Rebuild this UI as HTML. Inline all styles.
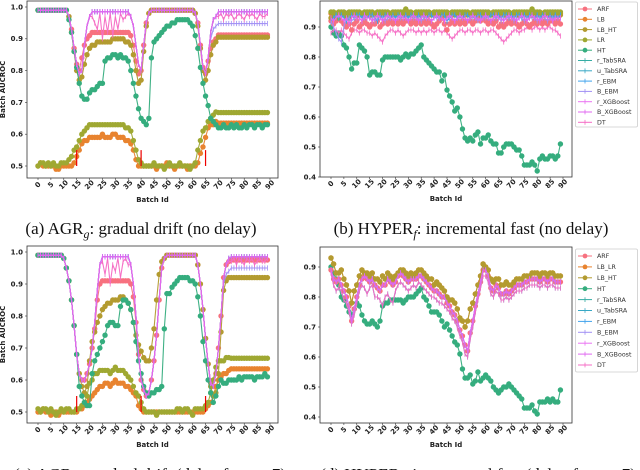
<!DOCTYPE html>
<html><head><meta charset="utf-8">
<style>
html,body{margin:0;padding:0;background:#fff;}
svg{display:block;}
.tk{font-family:"DejaVu Sans","Liberation Sans",sans-serif;font-size:7px;font-weight:bold;fill:#222;}
.lg{font-family:"DejaVu Sans","Liberation Sans",sans-serif;font-size:6.3px;fill:#333;}
.cap{font-family:"Liberation Serif",serif;font-size:17px;fill:#111;}
</style></head>
<body>
<svg id="fig" width="640" height="470" viewBox="0 0 640 470" xmlns="http://www.w3.org/2000/svg">
<rect width="640" height="470" fill="#fff"/>
<g id="pa"></g>
<g id="pb"></g>
<g id="pc"></g>
<g id="pd"></g>
<text class="cap" x="141" y="234" text-anchor="middle">(a) AGR<tspan font-size="12" dy="4" font-style="italic">g</tspan><tspan dy="-4">: gradual drift (no delay)</tspan></text>
<text class="cap" x="471" y="234" text-anchor="middle">(b) HYPER<tspan font-size="12" dy="4" font-style="italic">f</tspan><tspan dy="-4">: incremental fast (no delay)</tspan></text>
<text class="cap" x="150" y="480" text-anchor="middle">(c) AGR<tspan font-size="12" dy="4" font-style="italic">g</tspan><tspan dy="-4">: gradual drift (delay factor=7)</tspan></text>
<text class="cap" x="478" y="480" text-anchor="middle">(d) HYPER<tspan font-size="12" dy="4" font-style="italic">f</tspan><tspan dy="-4">: incremental fast (delay factor=7)</tspan></text>
</svg>
<script>
function r(v,n){return Array(n).fill(v);}
const batches = Array.from({length:90},(_, i)=>i);
const xTicks = [0,5,10,15,20,25,30,35,40,45,50,55,60,65,70,75,80,85,90];
const yTicksAC = [0.5,0.6,0.7,0.8,0.9,1.0];
const yTicksBD = [0.4,0.5,0.6,0.7,0.8,0.9];
const driftMarks = [15,40,65];

// ---- panel a values ----
const aTop = [...r(.99,12), .97,.93,.87,.82,.79,.80,.88,.94,.97, ...r(.985,15), .97,.94,.88,.82,.80,.88,.95,.98, ...r(.99,17), .98,.95,.88,.81,.79,.84,.92,.96,.97, ...r(.985,20)];
const aBEBM = [...r(.99,12), .97,.93,.87,.82,.79,.80,.88,.94,.97, ...r(.985,15), .97,.94,.88,.82,.80,.88,.95,.98, ...r(.99,17), .98,.95,.88,.81,.79,.84,.90,.93,.94, ...r(.948,20)];
const aDT = [...r(.99,12), .97,.93,.87,.82,.79,.80,.88,.94,.97, .97,.95,.93,.98,.90,.97,.92,.98,.91,.97,.93,.98,.96,.97,.98, .97,.94,.88,.82,.80,.88,.95,.98, ...r(.99,17), .98,.95,.88,.81,.79,.84,.92,.96,.97, .97,.98,.96,.98,.97,.98,.96,.97,.98,.97,.96,.98,.97,.98,.97,.96,.98,.97,.97,.98];
const aARF = [...r(.99,12), .97,.93,.87,.82,.80,.84,.88,.90,.91, ...r(.92,15), .91,.88,.83,.79,.80,.88,.95,.98, ...r(.99,17), .98,.95,.88,.81,.79,.83,.87,.89,.90, ...r(.912,20)];
const aLBHT = [...r(.99,12), .97,.92,.86,.80,.77,.78,.82,.85,.87, .88,.88,.89,.89,.89,.89,.89,.89,.90,.90,.90,.90,.90,.89,.89, .88,.85,.80,.76,.77,.86,.94,.98, ...r(.99,17), .98,.94,.87,.80,.77,.80,.85,.88,.89, ...r(.905,20)];
const aHT = [...r(.99,12), .96,.92,.86,.81,.76,.72,.71,.71,.73, .74,.74,.75,.76,.76,.83,.84,.84,.85,.85,.84,.85,.84,.84,.83, .80,.76,.72,.68,.65,.64,.63,.65, .84,.89,.90,.91,.92,.93,.94,.94,.95,.95,.96,.96,.96,.96,.96,.95,.94, .91,.87,.81,.76,.72,.69,.65,.64,.63, .62,.62,.63,.62,.62,.63,.62,.63,.62,.62,.63,.62,.63,.63,.62,.63,.63,.62,.63,.63];
const aLR = [.50,.51,.51,.50,.51,.50,.51,.50,.50,.51,.51,.51, .52,.53,.55,.56,.58,.60,.61,.62,.63, .63,.63,.63,.63,.63,.63,.63,.63,.63,.63,.63,.63,.63,.62,.62, .61,.58,.55,.52,.51,.50,.50,.50, .50,.51,.50,.50,.50,.49,.50,.51,.50,.50,.50,.51,.50,.50,.50,.49,.50, .51,.55,.58,.61,.62,.64,.65,.66,.67, ...r(.668,20)];
const aLB = [.50,.51,.50,.50,.50,.50,.50,.49,.49,.50,.50,.50, .50,.50,.51,.53,.55,.57,.58,.58,.59, .59,.59,.59,.59,.60,.59,.59,.59,.60,.60,.59,.59,.59,.58,.58, .57,.55,.52,.50,.50,.50,.50,.50, .50,.50,.49,.50,.50,.50,.51,.50,.50,.49,.50,.50,.50,.50,.49,.50,.50, .50,.51,.54,.56,.59,.62,.63,.63,.64, ...r(.635,20)];

// ---- panel c values ----
const cTop = [...r(.99,10), .98,.95,.91,.85,.77,.68,.62,.60,.60,.62,.65,.70,.78,.88,.96, ...r(.985,11), .96,.90,.80,.68,.60,.57,.55,.56,.60,.66,.74,.85,.95,.98, ...r(.99,12), .96,.90,.82,.73,.65,.59,.58,.62,.70,.80,.92,.96,.98, ...r(.985,15)];
const cBEBM = [...r(.99,10), .98,.95,.91,.85,.77,.68,.62,.60,.60,.62,.65,.70,.78,.88,.96, ...r(.985,11), .96,.90,.80,.68,.60,.57,.55,.56,.60,.66,.74,.85,.95,.98, ...r(.99,12), .96,.90,.82,.73,.65,.59,.58,.62,.70,.80,.90,.93,.94, ...r(.95,15)];
const cDT = [...r(.99,10), .98,.95,.91,.85,.77,.68,.62,.60,.60,.62,.65,.70,.78,.88,.96, .97,.93,.98,.90,.96,.94,.98,.92,.97,.98,.96, .96,.90,.80,.68,.60,.57,.55,.56,.60,.66,.74,.85,.95,.98, ...r(.99,12), .96,.90,.82,.73,.65,.59,.58,.62,.70,.80,.92,.96,.97, .97,.98,.96,.98,.97,.96,.98,.97,.98,.96,.97,.98,.97,.97,.98];
const cARF = [...r(.99,10), .98,.95,.91,.85,.77,.68,.62,.60,.60,.62,.65,.70,.76,.85,.90, ...r(.91,11), .90,.86,.78,.68,.60,.57,.55,.56,.60,.66,.74,.85,.95,.98, ...r(.99,12), .96,.90,.82,.73,.65,.59,.58,.62,.70,.80,.92,.96,.97, ...r(.975,15)];
const cLBHT = [...r(.99,10), .98,.95,.91,.85,.77,.68,.62,.58,.56,.58,.66,.72,.75,.78,.80, .82,.83,.84,.84,.85,.85,.85,.86,.86,.85,.84, .82,.78,.74,.71,.69,.67,.66,.66,.70,.76,.85,.93,.97,.98, ...r(.99,12), .96,.90,.82,.73,.65,.58,.55,.56,.62,.75,.88,.91,.92, ...r(.92,15)];
const cHT = [...r(.99,10), .98,.95,.91,.85,.77,.68,.58,.55,.53,.52,.52,.62,.66,.68,.70, .72,.74,.77,.78,.78,.77,.77,.83,.85,.85,.84, .82,.78,.72,.66,.62,.58,.56,.55,.56,.56,.57,.57,.58,.76, .87,.87,.89,.90,.91,.92,.92,.92,.92,.91,.91,.90, .86,.80,.72,.66,.60,.56,.53,.55,.58,.60,.59,.59,.60, .60,.60,.60,.61,.60,.61,.61,.61,.61,.60,.61,.61,.61,.62,.61];
const cLR = [.51,.50,.51,.51,.50,.51,.50,.49,.50,.51, .50,.51,.51,.50,.50,.51,.51,.52,.53,.55,.59,.60,.62,.62,.63, .63,.63,.63,.62,.63,.64,.63,.63,.63,.62,.61, .60,.58,.56,.55,.53,.51,.50,.50,.50,.50,.49,.50,.50,.50, .50,.50,.50,.50,.51,.51,.50,.51,.51,.50,.49,.51, .51,.51,.51,.52,.53,.56,.60,.64,.66,.66,.66,.67,.67, ...r(.668,15)];
const cLB = [.50,.50,.51,.50,.50,.49,.50,.50,.49,.50, .50,.50,.50,.50,.50,.50,.51,.51,.52,.53,.54,.55,.56,.57,.58, .58,.59,.59,.58,.59,.60,.59,.59,.59,.58,.58, .57,.56,.55,.52,.51,.50,.50,.50,.50,.50,.50,.50,.50,.50, ...r(.50,12), .50,.50,.50,.51,.52,.53,.55,.58,.60,.61,.62,.62,.63, ...r(.635,15)];

// ---- panel b values ----
const bLR = [.95,.95,.94,.95,.95,.95,.94,.95,.95,.95,.95,.95,.94,.95,.95,.95,.95,.94,.95,.95,.95,.95,.95,.94,.95,.95,.95,.95,.95,.96,.95,.95,.94,.95,.95,.95,.95,.95,.95,.94,.95,.95,.95,.95,.95,.95,.94,.95,.95,.95,.95,.95,.95,.95,.94,.95,.95,.95,.95,.95,.95,.95,.94,.95,.95,.95,.95,.95,.95,.95,.94,.95,.95,.95,.95,.95,.95,.95,.96,.95,.95,.95,.94,.95,.95,.95,.95,.95,.95,.95];
const bLB = r(.945,90);
const bLBHT = [.93,.94,.93,.93,.94,.94,.93,.93,.94,.94,...r(.94,80)];
const bARF = [.92,.91,.92,.93,.92,.91,.90,.91,.89,.91,.92,.90,.91,.92,.91,.90,.91,.91,.92,.90,.91,.92,.91,.92,.91,.92,.91,.92,.91,.92,.92,.91,.92,.91,.92,.91,.92,.91,.92,.91,.90,.91,.92,.93,.91,.89,.91,.92,.91,.92,.91,.92,.91,.92,.92,.91,.92,.93,.92,.93,.92,.91,.92,.91,.92,.90,.91,.90,.91,.92,.91,.92,.91,.90,.91,.92,.91,.90,.91,.92,.91,.92,.91,.92,.91,.92,.92,.91,.92,.91];
const bTab = [.92,.93,.94,.93,.94,.93,.92,.93,.94,.93,.94,.94,.93,.94,.93,.94,.94,.93,.92,.94,.93,.94,.94,.93,.94,.93,.94,.94,.93,.94,.93,.94,.94,.93,.94,.93,.94,.93,.94,.94,.93,.94,.93,.94,.94,.92,.93,.94,.94,.93,.94,.93,.94,.94,.93,.94,.93,.94,.94,.93,.94,.93,.94,.94,.93,.94,.93,.94,.94,.93,.94,.93,.94,.94,.93,.94,.93,.94,.94,.93,.94,.93,.94,.94,.93,.94,.93,.94,.93,.94];
const bBEBM = [.92,.90,.88,.86,.85,.90,.93,.93,.92,.93,.93,.93,.92,.93,.93,.93,.93,.92,.93,.93,.93,.92,.93,.93,.93,.92,.93,.93,.93,.93,.92,.93,.93,.93,.93,.92,.93,.93,.93,.92,.93,.93,.93,.93,.92,.93,.93,.93,.92,.93,.93,.93,.93,.92,.93,.93,.93,.92,.93,.93,.93,.93,.92,.93,.93,.93,.92,.93,.93,.93,.93,.92,.93,.93,.93,.92,.93,.93,.93,.93,.92,.93,.93,.93,.92,.93,.93,.93,.93,.93];
const bXGB = [.93,.92,.93,.94,.93,.92,.93,.91,.93,.94,.93,.93,.92,.94,.93,.93,.92,.93,.94,.93,.92,.93,.94,.93,.93,.92,.93,.94,.93,.93,.92,.93,.94,.93,.92,.93,.94,.93,.93,.92,.93,.94,.93,.93,.92,.93,.94,.93,.92,.93,.94,.93,.93,.92,.93,.94,.93,.93,.92,.93,.94,.93,.92,.93,.94,.93,.93,.92,.93,.94,.93,.93,.92,.93,.94,.93,.92,.93,.94,.93,.93,.92,.93,.94,.93,.93,.92,.93,.93,.93];
const bDT = [.88,.89,.89,.88,.89,.88,.87,.86,.88,.89,.89,.88,.89,.89,.88,.88,.87,.88,.87,.86,.85,.87,.88,.89,.89,.88,.89,.88,.87,.88,.89,.89,.89,.88,.89,.88,.89,.88,.89,.89,.88,.89,.89,.88,.89,.88,.87,.86,.87,.88,.89,.89,.88,.89,.89,.88,.89,.89,.88,.89,.89,.88,.89,.89,.88,.87,.86,.85,.86,.87,.88,.89,.89,.88,.89,.89,.90,.90,.89,.90,.90,.89,.90,.89,.90,.90,.89,.89,.88,.87];
const bHT = [.90,.88,.87,.88,.87,.84,.83,.80,.76,.78,.78,.84,.83,.82,.80,.74,.75,.75,.74,.74,.79,.80,.80,.80,.80,.80,.80,.79,.80,.81,.80,.81,.81,.82,.83,.84,.80,.79,.78,.77,.76,.75,.75,.72,.74,.69,.67,.65,.62,.63,.60,.56,.53,.52,.53,.52,.54,.55,.51,.53,.53,.54,.52,.51,.51,.48,.48,.50,.51,.51,.51,.50,.49,.49,.47,.44,.44,.44,.45,.44,.42,.46,.47,.46,.46,.47,.47,.46,.47,.51];

// ---- panel d values ----
const dTop = [.93,.91,.88,.88,.89,.86,.84,.82,.78,.82,.84,.87,.89,.88,.88,.87,.88,.86,.86,.85,.87,.86,.88,.87,.86,.87,.88,.89,.89,.88,.87,.88,.87,.88,.89,.89,.88,.87,.86,.86,.84,.85,.84,.83,.82,.80,.79,.79,.78,.76,.73,.72,.70,.72,.76,.78,.81,.84,.87,.91,.90,.89,.86,.85,.86,.86,.84,.84,.85,.84,.84,.85,.86,.86,.86,.87,.87,.87,.88,.88,.88,.87,.88,.88,.87,.88,.88,.87,.87,.87];
const dMid = [.89,.86,.85,.86,.84,.82,.80,.77,.72,.76,.80,.84,.86,.87,.86,.85,.86,.84,.83,.82,.84,.84,.86,.85,.84,.85,.87,.88,.87,.86,.85,.86,.86,.86,.87,.87,.86,.85,.84,.83,.82,.82,.81,.80,.80,.78,.77,.75,.74,.72,.69,.67,.64,.62,.68,.72,.77,.81,.85,.89,.89,.87,.83,.82,.84,.83,.81,.81,.82,.81,.82,.83,.84,.84,.84,.85,.85,.86,.86,.86,.86,.85,.86,.86,.85,.86,.86,.85,.85,.85];
const dLow = [.88,.84,.82,.83,.82,.79,.78,.75,.71,.74,.78,.82,.84,.83,.81,.83,.84,.80,.80,.79,.77,.80,.81,.79,.78,.82,.84,.85,.84,.83,.82,.83,.84,.83,.85,.84,.83,.82,.81,.80,.80,.79,.78,.78,.77,.76,.75,.73,.72,.70,.67,.65,.61,.60,.66,.70,.75,.79,.83,.87,.87,.85,.81,.80,.82,.81,.79,.79,.80,.79,.80,.81,.82,.82,.82,.83,.83,.84,.84,.84,.84,.83,.84,.84,.83,.84,.84,.83,.83,.83];
const dHT = [.90,.88,.86,.84,.80,.79,.77,.75,.74,.76,.78,.77,.74,.72,.71,.71,.72,.71,.70,.72,.77,.78,.78,.79,.79,.79,.79,.79,.78,.79,.80,.80,.80,.81,.82,.83,.80,.79,.77,.75,.75,.75,.74,.72,.70,.71,.69,.67,.65,.64,.61,.56,.53,.53,.54,.51,.52,.55,.52,.53,.54,.53,.52,.50,.49,.48,.49,.50,.50,.51,.50,.49,.48,.47,.46,.43,.43,.43,.44,.42,.41,.45,.45,.45,.46,.45,.46,.45,.45,.49];

const C = {ARF:'#f7717f',LB:'#e8832f',LBHT:'#b39b30',LR:'#9fa832',HT:'#35ad7e',rTab:'#36ada4',uTab:'#38a8c5',rEBM:'#40a2ec',BEBM:'#a08ff4',rXGB:'#ea72f2',BXGB:'#e066f0',DT:'#f56bc4'};
const NS='http://www.w3.org/2000/svg';
function el(tag,attrs,parent){const e=document.createElementNS(NS,tag);for(const k in attrs)e.setAttribute(k,attrs[k]);if(parent)parent.appendChild(e);return e;}

function panel(gid,cfg,series,legend){
  const g=document.getElementById(gid);
  const xs=i=>cfg.x0+(i)*(cfg.x90-cfg.x0)/90;
  const ys=v=>cfg.yA+(cfg.vA-v)*(cfg.yB-cfg.yA)/(cfg.vA-cfg.vB);
  cfg.yt.forEach(v=>{
    const y=ys(v);
    const t=el('text',{x:cfg.L-4,y:y+2.4,'text-anchor':'end','class':'tk'},g);
    t.textContent=v.toFixed(1);
    
    
    el('line',{x1:cfg.L-2,x2:cfg.L,y1:y,y2:y,stroke:'#333','stroke-width':0.6},g);
  });
  xTicks.forEach(v=>{
    const x=xs(v);
    el('line',{x1:x,x2:x,y1:cfg.B,y2:cfg.B+2,stroke:'#333','stroke-width':0.6},g);
    const t=el('text',{x:x,y:cfg.B+9,'text-anchor':'middle','class':'tk',transform:`rotate(-45 ${x} ${cfg.B+7})`},g);
    t.textContent=v;
    
    
  });
  const xt=el('text',{x:(cfg.L+cfg.R)/2,y:cfg.B+24,'text-anchor':'middle','class':'tk'},g);
  xt.textContent='Batch Id';
  
  
  if(cfg.ytitle){
    const yy=(cfg.T+cfg.B)/2;
    const yt=el('text',{x:5,y:yy,'text-anchor':'middle','class':'tk',transform:`rotate(-90 5 ${yy})`},g);
    yt.textContent='Batch AUCROC';
    
    
  }
  series.forEach(s=>{
    const sg=el('g',{},g);
    
    
    const pts=s.data.map((v,i)=>xs(batches[i]).toFixed(2)+','+ys(v).toFixed(2)).join(' ');
    el('polyline',{points:pts,fill:'none',stroke:s.color,'stroke-width':1.1,opacity:0.95},sg);
    s.data.forEach((v,i)=>{
      const x=xs(batches[i]),y=ys(v);
      if(s.dot){el('circle',{cx:x,cy:y,r:2.7,fill:s.color},sg);}
      else{el('line',{x1:x,x2:x,y1:y-2.6,y2:y+2.6,stroke:s.color,'stroke-width':0.8},sg);}
    });
  });
  if(cfg.drift){
    driftMarks.forEach(d=>{
      const m=el('line',{x1:xs(d),x2:xs(d),y1:ys(0.5),y2:ys(0.55),stroke:'#e00','stroke-width':1.2},g);
      
      
    });
  }
  el('rect',{x:cfg.L,y:cfg.T,width:cfg.R-cfg.L,height:cfg.B-cfg.T,fill:'none',stroke:'#333','stroke-width':0.8},g);
  if(legend){
    const lg=el('g',{},g);
    
    
    el('rect',{x:575.5,y:legend.y0,width:62,height:legend.h,fill:'#fff',stroke:'#ccc','stroke-width':0.8,rx:1.5},lg);
    legend.items.forEach((it,k)=>{
      const y=legend.y0+7+k*legend.dy;
      const e=el('g',{},lg);
      
      
      el('line',{x1:578,x2:592,y1:y,y2:y,stroke:it.color,'stroke-width':1},e);
      if(it.dot)el('circle',{cx:585,cy:y,r:2.4,fill:it.color},e);
      else el('line',{x1:585,x2:585,y1:y-2.4,y2:y+2.4,stroke:it.color,'stroke-width':0.8},e);
      const t=el('text',{x:597,y:y+2.2,'class':'lg'},e);
      t.textContent=it.name;
    });
  }
}

const serA=[
 {name:'ARF',data:aARF,color:C.ARF,dot:1},{name:'LB',data:aLB,color:C.LB,dot:1},{name:'LB_HT',data:aLBHT,color:C.LBHT,dot:1},
 {name:'LR',data:aLR,color:C.LR,dot:1},{name:'HT',data:aHT,color:C.HT,dot:1},
 {name:'r_TabSRA',data:aTop,color:C.rTab},{name:'u_TabSRA',data:aTop,color:C.uTab},{name:'r_EBM',data:aTop,color:C.rEBM},
 {name:'B_EBM',data:aBEBM,color:C.BEBM},{name:'r_XGBoost',data:aTop,color:C.rXGB},{name:'DT',data:aDT,color:C.DT},{name:'B_XGBoost',data:aTop,color:C.BXGB}];
panel('pa',{L:27,R:278,T:1,B:178,x0:38,x90:270,vA:1.0,yA:7,vB:0.5,yB:166,yt:yTicksAC,ytitle:1,drift:1},serA);

const serC=[
 {name:'ARF',data:cARF,color:C.ARF,dot:1},{name:'LB',data:cLB,color:C.LB,dot:1},{name:'LB_HT',data:cLBHT,color:C.LBHT,dot:1},
 {name:'LR',data:cLR,color:C.LR,dot:1},{name:'HT',data:cHT,color:C.HT,dot:1},
 {name:'r_TabSRA',data:cTop,color:C.rTab},{name:'u_TabSRA',data:cTop,color:C.uTab},{name:'r_EBM',data:cTop,color:C.rEBM},
 {name:'B_EBM',data:cBEBM,color:C.BEBM},{name:'r_XGBoost',data:cTop,color:C.rXGB},{name:'DT',data:cDT,color:C.DT},{name:'B_XGBoost',data:cTop,color:C.BXGB}];
panel('pc',{L:27,R:278,T:246,B:423,x0:38,x90:270,vA:1.0,yA:252,vB:0.5,yB:412,yt:yTicksAC,ytitle:1,drift:1},serC);

const serB=[
 {name:'HT',data:bHT,color:C.HT,dot:1},
 {name:'DT',data:bDT,color:C.DT},
 {name:'ARF',data:bARF,color:C.ARF,dot:1},{name:'LB',data:bLB,color:C.LB,dot:1},{name:'LB_HT',data:bLBHT,color:C.LBHT,dot:1},
 {name:'LR',data:bLR,color:C.LR,dot:1},
 {name:'r_TabSRA',data:bTab,color:C.rTab},{name:'u_TabSRA',data:bTab,color:C.uTab},{name:'r_EBM',data:bTab,color:C.rEBM},
 {name:'B_EBM',data:bBEBM,color:C.BEBM},{name:'r_XGBoost',data:bXGB,color:C.rXGB},{name:'B_XGBoost',data:bXGB,color:C.BXGB}];
const legB=['ARF','LB','LB_HT','LR','HT','r_TabSRA','u_TabSRA','r_EBM','B_EBM','r_XGBoost','B_XGBoost','DT'];
const colB=[C.ARF,C.LB,C.LBHT,C.LR,C.HT,C.rTab,C.uTab,C.rEBM,C.BEBM,C.rXGB,C.BXGB,C.DT];
panel('pb',{L:320,R:572,T:1,B:177,x0:331,x90:563,vA:0.9,yA:27,vB:0.4,yB:177,yt:yTicksBD},serB,
 {y0:2,h:125,dy:10.3,items:legB.map((n,k)=>({name:n,color:colB[k],dot:k<5}))});

const serD=[
 {name:'HT',data:dHT,color:C.HT,dot:1},
 {name:'ARF',data:dMid,color:C.ARF,dot:1},{name:'LB_LR',data:dTop,color:C.LB,dot:1},{name:'LB_HT',data:dTop,color:C.LBHT,dot:1},
 {name:'r_TabSRA',data:dMid,color:C.rTab},{name:'u_TabSRA',data:dLow,color:C.uTab},{name:'r_EBM',data:dMid,color:C.rEBM},
 {name:'B_EBM',data:dMid,color:C.BEBM},{name:'DT',data:dLow,color:C.DT},{name:'r_XGBoost',data:dMid,color:C.rXGB},{name:'B_XGBoost',data:dMid,color:C.BXGB}];
const legD=['ARF','LB_LR','LB_HT','HT','r_TabSRA','u_TabSRA','r_EBM','B_EBM','r_XGBoost','B_XGBoost','DT'];
const colD=[C.ARF,C.LB,C.LBHT,C.HT,C.rTab,C.uTab,C.rEBM,C.BEBM,C.rXGB,C.BXGB,C.DT];
panel('pd',{L:320,R:572,T:247,B:423,x0:331,x90:563,vA:0.9,yA:267,vB:0.4,yB:417,yt:yTicksBD},serD,
 {y0:249,h:123,dy:10.9,items:legD.map((n,k)=>({name:n,color:colD[k],dot:k<4}))});
</script>
</body></html>
